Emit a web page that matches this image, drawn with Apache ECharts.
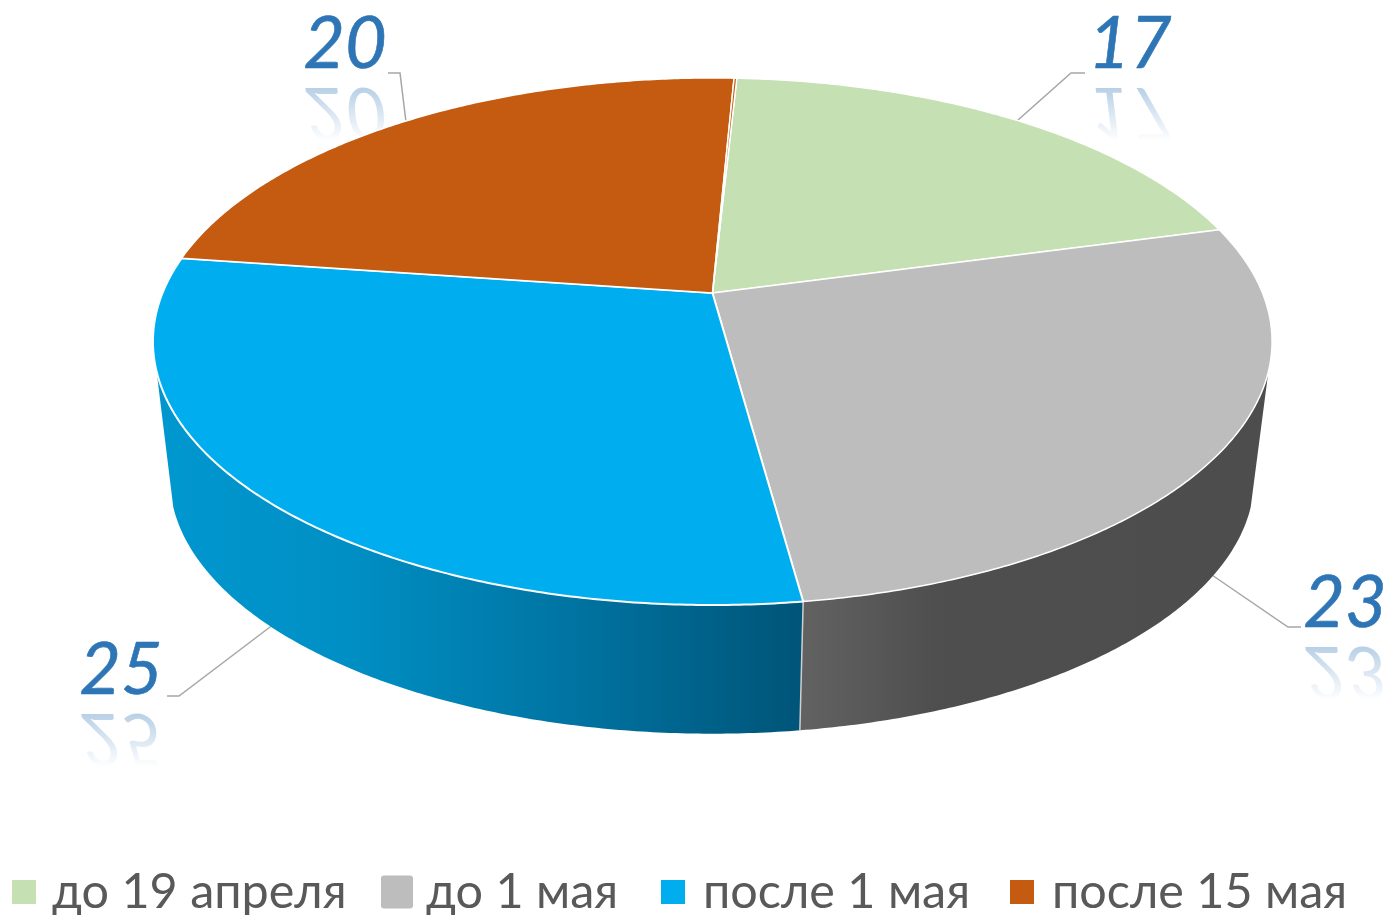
<!DOCTYPE html>
<html><head><meta charset="utf-8">
<style>html,body{margin:0;padding:0;background:#fff}#c{width:1388px;height:915px}</style>
<script src="https://cdn.jsdelivr.net/npm/echarts@6/dist/echarts.min.js"></script>
</head><body><div id="c"></div>
<script>
const categories = ['до 19 апреля', 'до 1 мая', 'после 1 мая', 'после 15 мая'];
const values = [17, 23, 25, 20];
const sliverValue = 0.08; // hairline remainder slice next to the first one

const colors = ['#c5e0b3', '#bdbdbd', '#00aeef', '#c55a11'];
const sideFills = [
  null,
  [[0, '#626262'], [0.3, '#4e4e4e'], [1, '#4d4d4d']],
  [[0, '#0097cf'], [0.3, '#008fc4'], [0.65, '#0073a1'], [1, '#005478']],
  null
];
// silhouette angle: where the rim's vertical edge leaves the top face
const silhouetteDeg = [null, 107, 253, null];
const labelLayout = [
  {x: 1130, y: 45, leader: [[1018,120],[1071,73],[1085,73]]},
  {x: 1345, y: 604, leader: [[1209,573],[1288,627],[1301,627]]},
  {x: 121, y: 671, leader: [[274,624],[179,696],[167,696]]},
  {x: 345, y: 45, leader: [[406,122],[400,73],[388,73]]}
];
const legendLayout = [
  {left: 12, w: 24, h: 24, pad: 11},
  {left: 381, w: 32, h: 33, pad: 8},
  {left: 661, w: 24, h: 24, pad: 13},
  {left: 1010, w: 24, h: 24, pad: 13}
];
const START_DEG = 3.0;
const topRing = {cx: 712.5, cy: 293, A: 550, B: 254.6, k: 0.184};
const botRing = {cx: 712, cy: 431, A: 533, B: 247, k: 0.184};
const LABEL_FONT = 'italic 72px Lato, "Open Sans", sans-serif';
const REFLECT_OFFSET = 66;

function ring(p, deg) {
  const t = deg * Math.PI / 180, u = Math.sin(t), v = -Math.cos(t), w = 1 - p.k * v;
  return [p.cx + p.A * u / w, p.cy + p.B * v / w];
}
function arc(p, a, b) {
  const n = Math.max(2, Math.ceil(Math.abs(b - a) * 2)), out = [];
  for (let i = 0; i <= n; i++) out.push(ring(p, a + (b - a) * i / n));
  return out;
}
const allValues = values.concat([sliverValue]);
const total = allValues.reduce((s, x) => s + x, 0);
function sliceAngles(i) {
  let before = 0;
  for (let j = 0; j < i; j++) before += allValues[j];
  return [START_DEG + before / total * 360, START_DEG + (before + allValues[i]) / total * 360];
}
function makeRender(i) {
  return function () {
    const [a, b] = sliceAngles(i);
    const kids = [];
    const lay = labelLayout[i];
    if (lay) {
      kids.push({type: 'polyline', shape: {points: lay.leader}, silent: true,
        style: {stroke: '#a6a6a6', lineWidth: 1.5, fill: null}});
      const txt = String(allValues[i]);
      const ry = lay.y + REFLECT_OFFSET;
      kids.push({type: 'text', x: lay.x, y: ry, scaleY: -1, silent: true,
        style: {text: txt, font: LABEL_FONT, align: 'center', verticalAlign: 'middle',
          fill: 'rgba(46,117,182,0.36)'}});
      kids.push({type: 'rect', silent: true,
        shape: {x: lay.x - 43, y: ry - 26, width: 86, height: 56},
        style: {fill: new echarts.graphic.LinearGradient(0, 0, 0, 1, [
          {offset: 0, color: 'rgba(255,255,255,0)'},
          {offset: 1, color: 'rgba(255,255,255,1)'}])}});
      kids.push({type: 'text', x: lay.x, y: lay.y, silent: true,
        style: {text: txt, font: LABEL_FONT, fill: '#2e75b6', stroke: '#2e75b6', lineWidth: 0.6,
          align: 'center', verticalAlign: 'middle'}});
    }
    if (sideFills[i]) {
      const s = silhouetteDeg[i];
      // the near edge of the slice, along the lower rim to the silhouette, then back along the top rim
      const nearDeg = i === 1 ? b : a;
      const poly = arc(botRing, nearDeg, s).concat(arc(topRing, s, nearDeg));
      kids.push({type: 'polygon', shape: {points: poly},
        style: {fill: new echarts.graphic.LinearGradient(0, 0, 1, 0,
          sideFills[i].map(st => ({offset: st[0], color: st[1]})))}});
      if (i === 2) {
        kids.push({type: 'polyline', shape: {points: [ring(topRing, a), ring(botRing, a)]},
          style: {stroke: '#cfcfcf', lineWidth: 1.5, fill: null}});
      }
    }
    const face = [[topRing.cx, topRing.cy]].concat(arc(topRing, a, b));
    kids.push({type: 'polygon', shape: {points: face},
      style: {fill: colors[Math.min(i, 3)], stroke: '#ffffff', lineWidth: i === 2 ? 2 : 1.5, lineJoin: 'round'}});
    return {type: 'group', children: kids};
  };
}
const series = allValues.map((v, i) => ({
  type: 'custom', name: categories[i] || 'остаток', coordinateSystem: 'none',
  silent: true, animation: false, clip: false,
  itemStyle: {color: colors[Math.min(i, 3)]},
  data: [[v]], renderItem: makeRender(i)
}));
const legend = categories.map((c, i) => ({
  data: [c], left: legendLayout[i].left, top: 892 - 27, orient: 'horizontal',
  icon: i === 1 ? 'path://M3,0H29Q32,0 32,3V30Q32,33 29,33H3Q0,33 0,30V3Q0,0 3,0Z' : 'rect',
  itemWidth: legendLayout[i].w, itemHeight: legendLayout[i].h,
  padding: 0, selectedMode: false,
  textStyle: {fontFamily: 'Lato, "Open Sans", sans-serif', fontSize: 48.5, color: '#595959',
    padding: [0, 0, 0, legendLayout[i].pad], height: 54, lineHeight: 54}
}));
const chart = echarts.init(document.getElementById('c'), null, {renderer: 'canvas'});
chart.setOption({backgroundColor: '#ffffff', animation: false, legend, series});
</script></body></html>
